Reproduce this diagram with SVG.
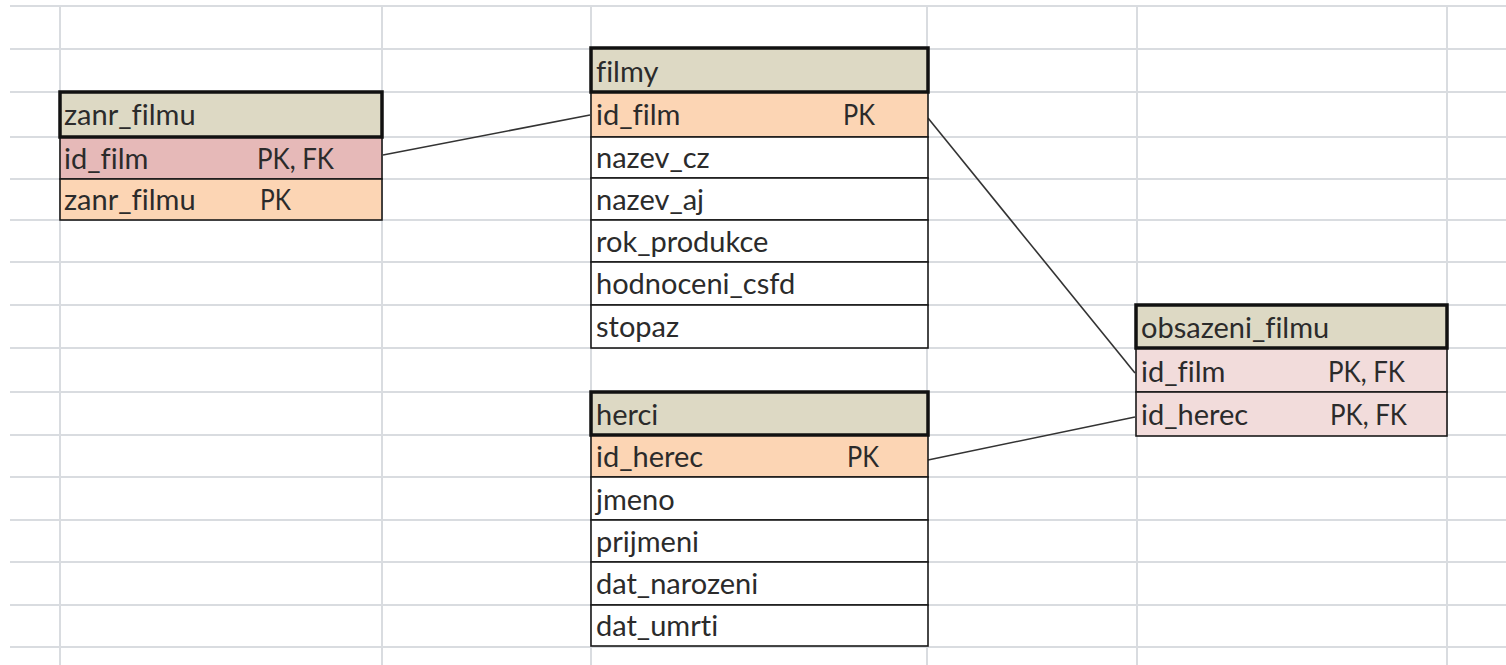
<svg xmlns="http://www.w3.org/2000/svg" width="1506" height="665" viewBox="0 0 1506 665">
  <style>
    .grid line { stroke: #d9dce0; stroke-width: 2; }
    .hdr { fill: #ddd9c4; stroke: #111; stroke-width: 3.5; }
    .row { stroke: #1a1a1a; stroke-width: 1.6; }
    .plain { fill: #ffffff; }
    .pk { fill: #fcd5b4; }
    .pkfk { fill: #e6b9b8; }
    .fk { fill: #f2dcdb; }
    text { font-family: Lato, "Liberation Sans", sans-serif; font-size: 29px; fill: #2b2b2b; font-variant-ligatures: none; }
    .conn line { stroke: #333; stroke-width: 1.6; }
  </style>

  <rect width="1506" height="665" fill="#ffffff"/>

  <!-- sheet grid -->
  <g class="grid">
    <line x1="10" y1="6" x2="1506" y2="6"/>
    <line x1="10" y1="49" x2="1506" y2="49"/>
    <line x1="10" y1="92" x2="1506" y2="92"/>
    <line x1="10" y1="137" x2="1506" y2="137"/>
    <line x1="10" y1="179" x2="1506" y2="179"/>
    <line x1="10" y1="220" x2="1506" y2="220"/>
    <line x1="10" y1="262" x2="1506" y2="262"/>
    <line x1="10" y1="305" x2="1506" y2="305"/>
    <line x1="10" y1="348" x2="1506" y2="348"/>
    <line x1="10" y1="392" x2="1506" y2="392"/>
    <line x1="10" y1="435" x2="1506" y2="435"/>
    <line x1="10" y1="477" x2="1506" y2="477"/>
    <line x1="10" y1="520" x2="1506" y2="520"/>
    <line x1="10" y1="562" x2="1506" y2="562"/>
    <line x1="10" y1="605" x2="1506" y2="605"/>
    <line x1="10" y1="647" x2="1506" y2="647"/>
    <line x1="60" y1="6" x2="60" y2="665"/>
    <line x1="382" y1="6" x2="382" y2="665"/>
    <line x1="591" y1="6" x2="591" y2="665"/>
    <line x1="927" y1="6" x2="927" y2="665"/>
    <line x1="1137" y1="6" x2="1137" y2="665"/>
    <line x1="1447" y1="6" x2="1447" y2="665"/>
  </g>

  <!-- relationships -->
  <g id="connectors" class="conn">
    <line x1="383" y1="155" x2="590" y2="115"/>
    <line x1="928" y1="118" x2="1135" y2="373"/>
    <line x1="928" y1="460" x2="1135" y2="417"/>
  </g>

  <g id="zanr_filmu">
    <rect class="row pkfk" x="60" y="137" width="322" height="42"/>
    <rect class="row pk" x="60" y="179" width="322" height="41"/>
    <rect class="hdr" x="60" y="92" width="322" height="45"/>
    <text x="64" y="125">zanr_filmu</text>
    <text x="64" y="169">id_film</text>
    <text x="257" y="169" textLength="77" lengthAdjust="spacingAndGlyphs">PK, FK</text>
    <text x="64" y="210">zanr_filmu</text>
    <text x="260" y="210" textLength="31" lengthAdjust="spacingAndGlyphs">PK</text>
  </g>

  <g id="filmy">
    <rect class="row pk" x="591" y="92" width="337" height="45"/>
    <rect class="row plain" x="591" y="137" width="337" height="41"/>
    <rect class="row plain" x="591" y="178" width="337" height="42"/>
    <rect class="row plain" x="591" y="220" width="337" height="42"/>
    <rect class="row plain" x="591" y="262" width="337" height="43"/>
    <rect class="row plain" x="591" y="305" width="337" height="43"/>
    <rect class="hdr" x="591" y="48" width="337" height="44"/>
    <text x="596" y="82">filmy</text>
    <text x="596" y="125">id_film</text>
    <text x="843" y="125" textLength="32" lengthAdjust="spacingAndGlyphs">PK</text>
    <text x="596" y="168">nazev_cz</text>
    <text x="596" y="210">nazev_aj</text>
    <text x="596" y="252">rok_produkce</text>
    <text x="596" y="294">hodnoceni_csfd</text>
    <text x="596" y="337">stopaz</text>
  </g>

  <g id="herci">
    <rect class="row pk" x="591" y="435" width="337" height="42"/>
    <rect class="row plain" x="591" y="477" width="337" height="43"/>
    <rect class="row plain" x="591" y="520" width="337" height="42"/>
    <rect class="row plain" x="591" y="562" width="337" height="43"/>
    <rect class="row plain" x="591" y="605" width="337" height="41"/>
    <rect class="hdr" x="591" y="392" width="337" height="43"/>
    <text x="596" y="425">herci</text>
    <text x="596" y="467">id_herec</text>
    <text x="847" y="467" textLength="32" lengthAdjust="spacingAndGlyphs">PK</text>
    <text x="596" y="510">jmeno</text>
    <text x="596" y="552">prijmeni</text>
    <text x="596" y="594">dat_narozeni</text>
    <text x="596" y="636">dat_umrti</text>
  </g>

  <g id="obsazeni_filmu">
    <rect class="row fk" x="1136" y="348" width="311" height="44"/>
    <rect class="row fk" x="1136" y="392" width="311" height="44"/>
    <rect class="hdr" x="1136" y="305" width="311" height="43"/>
    <text x="1141" y="338">obsazeni_filmu</text>
    <text x="1141" y="382">id_film</text>
    <text x="1328" y="382" textLength="77" lengthAdjust="spacingAndGlyphs">PK, FK</text>
    <text x="1141" y="425">id_herec</text>
    <text x="1330" y="425" textLength="77" lengthAdjust="spacingAndGlyphs">PK, FK</text>
  </g>
</svg>
